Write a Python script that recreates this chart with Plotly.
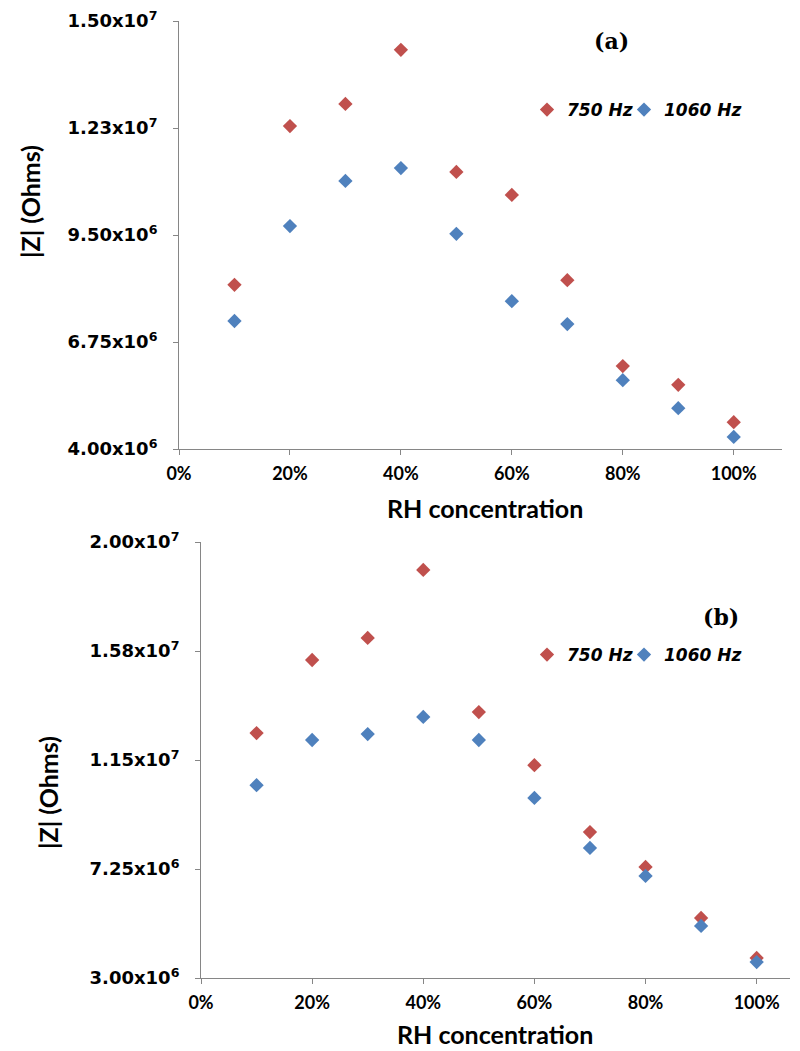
import plotly.graph_objects as go

rh = [0.1, 0.2, 0.3, 0.4, 0.5, 0.6, 0.7, 0.8, 0.9, 1.0]

a_750 = [8.22e6, 1.230e7, 1.287e7, 1.426e7, 1.112e7, 1.053e7, 8.34e6, 6.13e6, 5.65e6, 4.69e6]
a_1060 = [7.29e6, 9.73e6, 1.089e7, 1.122e7, 9.53e6, 7.80e6, 7.21e6, 5.77e6, 5.05e6, 4.31e6]

b_750 = [1.255e7, 1.540e7, 1.626e7, 1.891e7, 1.337e7, 1.130e7, 8.69e6, 7.33e6, 5.34e6, 3.78e6]
b_1060 = [1.052e7, 1.228e7, 1.251e7, 1.318e7, 1.228e7, 1.002e7, 8.07e6, 6.98e6, 5.03e6, 3.62e6]

a_ticks = [4.0e6, 6.75e6, 9.5e6, 1.225e7, 1.5e7]
a_ticktext = ["4.00x10<sup>6</sup>", "6.75x10<sup>6</sup>", "9.50x10<sup>6</sup>",
              "1.23x10<sup>7</sup>", "1.50x10<sup>7</sup>"]
b_ticks = [3.0e6, 7.25e6, 1.15e7, 1.575e7, 2.0e7]
b_ticktext = ["3.00x10<sup>6</sup>", "7.25x10<sup>6</sup>", "1.15x10<sup>7</sup>",
              "1.58x10<sup>7</sup>", "2.00x10<sup>7</sup>"]

RED = "#C0504D"
BLUE = "#4F81BD"
W, H = 800, 1051

fig = go.Figure()
mk = dict(symbol="diamond", size=11)
fig.add_trace(go.Scatter(x=rh, y=a_750, mode="markers", name="750 Hz",
                         marker=dict(color=RED, **mk), xaxis="x", yaxis="y", legend="legend"))
fig.add_trace(go.Scatter(x=rh, y=a_1060, mode="markers", name="1060 Hz",
                         marker=dict(color=BLUE, **mk), xaxis="x", yaxis="y", legend="legend3"))
fig.add_trace(go.Scatter(x=rh, y=b_750, mode="markers", name="750 Hz",
                         marker=dict(color=RED, **mk), xaxis="x2", yaxis="y2", legend="legend2"))
fig.add_trace(go.Scatter(x=rh, y=b_1060, mode="markers", name="1060 Hz",
                         marker=dict(color=BLUE, **mk), xaxis="x2", yaxis="y2", legend="legend4"))

def px(v):
    return v / W

def py(v):
    return (H - v) / H

axis_common = dict(showgrid=False, zeroline=False, showline=True, linecolor="#868686",
                   linewidth=1, ticks="outside", ticklen=5, tickcolor="#868686",
                   automargin=False, ticklabeloverflow="allow")
xfont = dict(family="Lato", size=18, color="#000000", weight="bold")
yfont = dict(family="DejaVu Sans", size=18, color="#000000", weight="bold")
legfont = dict(family="DejaVu Sans", size=17, color="#000000", weight="bold", style="italic")

def leg(x, y):
    return dict(orientation="h", x=px(x), y=py(y), xanchor="left", yanchor="middle",
                font=legfont, bgcolor="rgba(0,0,0,0)", itemwidth=30)

fig.update_layout(
    template="none",
    width=W, height=H, margin=dict(l=0, r=0, t=0, b=0, autoexpand=False),
    paper_bgcolor="white", plot_bgcolor="white",
    xaxis=dict(domain=[px(179), px(782)], range=[0, 1.087], tickvals=[0, 0.2, 0.4, 0.6, 0.8, 1.0],
               tickformat=".0%", tickfont=xfont, anchor="y", ticklabelstandoff=3, **axis_common),
    yaxis=dict(domain=[py(449), py(21)], range=[4.0e6, 1.5e7], tickvals=a_ticks, ticktext=a_ticktext,
               tickfont=yfont, anchor="x", ticklabelstandoff=12, **axis_common),
    xaxis2=dict(domain=[px(201), px(790)], range=[0, 1.06], tickvals=[0, 0.2, 0.4, 0.6, 0.8, 1.0],
                tickformat=".0%", tickfont=xfont, anchor="y2", ticklabelstandoff=3, **axis_common),
    yaxis2=dict(domain=[py(978), py(542)], range=[3.0e6, 2.0e7], tickvals=b_ticks, ticktext=b_ticktext,
                tickfont=yfont, anchor="x2", ticklabelstandoff=12, **axis_common),
    legend=leg(527, 110),
    legend3=leg(624, 110),
    legend2=leg(527, 655),
    legend4=leg(624, 655),
    showlegend=True,
)

title_font = dict(family="Lato", size=25, color="#000000", weight="bold")
ann = dict(xref="paper", yref="paper", showarrow=False, xanchor="center", yanchor="middle")
fig.add_annotation(text="RH concentration", x=px(485), y=py(508), font=title_font, **ann)
fig.add_annotation(text="RH concentration", x=px(495), y=py(1034), font=title_font, **ann)
fig.add_annotation(text="|Z| (Ohms)", x=px(30), y=py(202), textangle=-90, font=title_font, **ann)
fig.add_annotation(text="|Z| (Ohms)", x=px(48), y=py(793), textangle=-90, font=title_font, **ann)
label_font = dict(family="DejaVu Serif", size=22, color="#000000", weight="bold")
fig.add_annotation(text="(a)", x=px(611), y=py(41), font=label_font, **ann)
fig.add_annotation(text="(b)", x=px(721), y=py(617), font=label_font, **ann)

fig.write_html("out.html", config={"displayModeBar": False},
               post_script="document.body.style.margin='0';")
